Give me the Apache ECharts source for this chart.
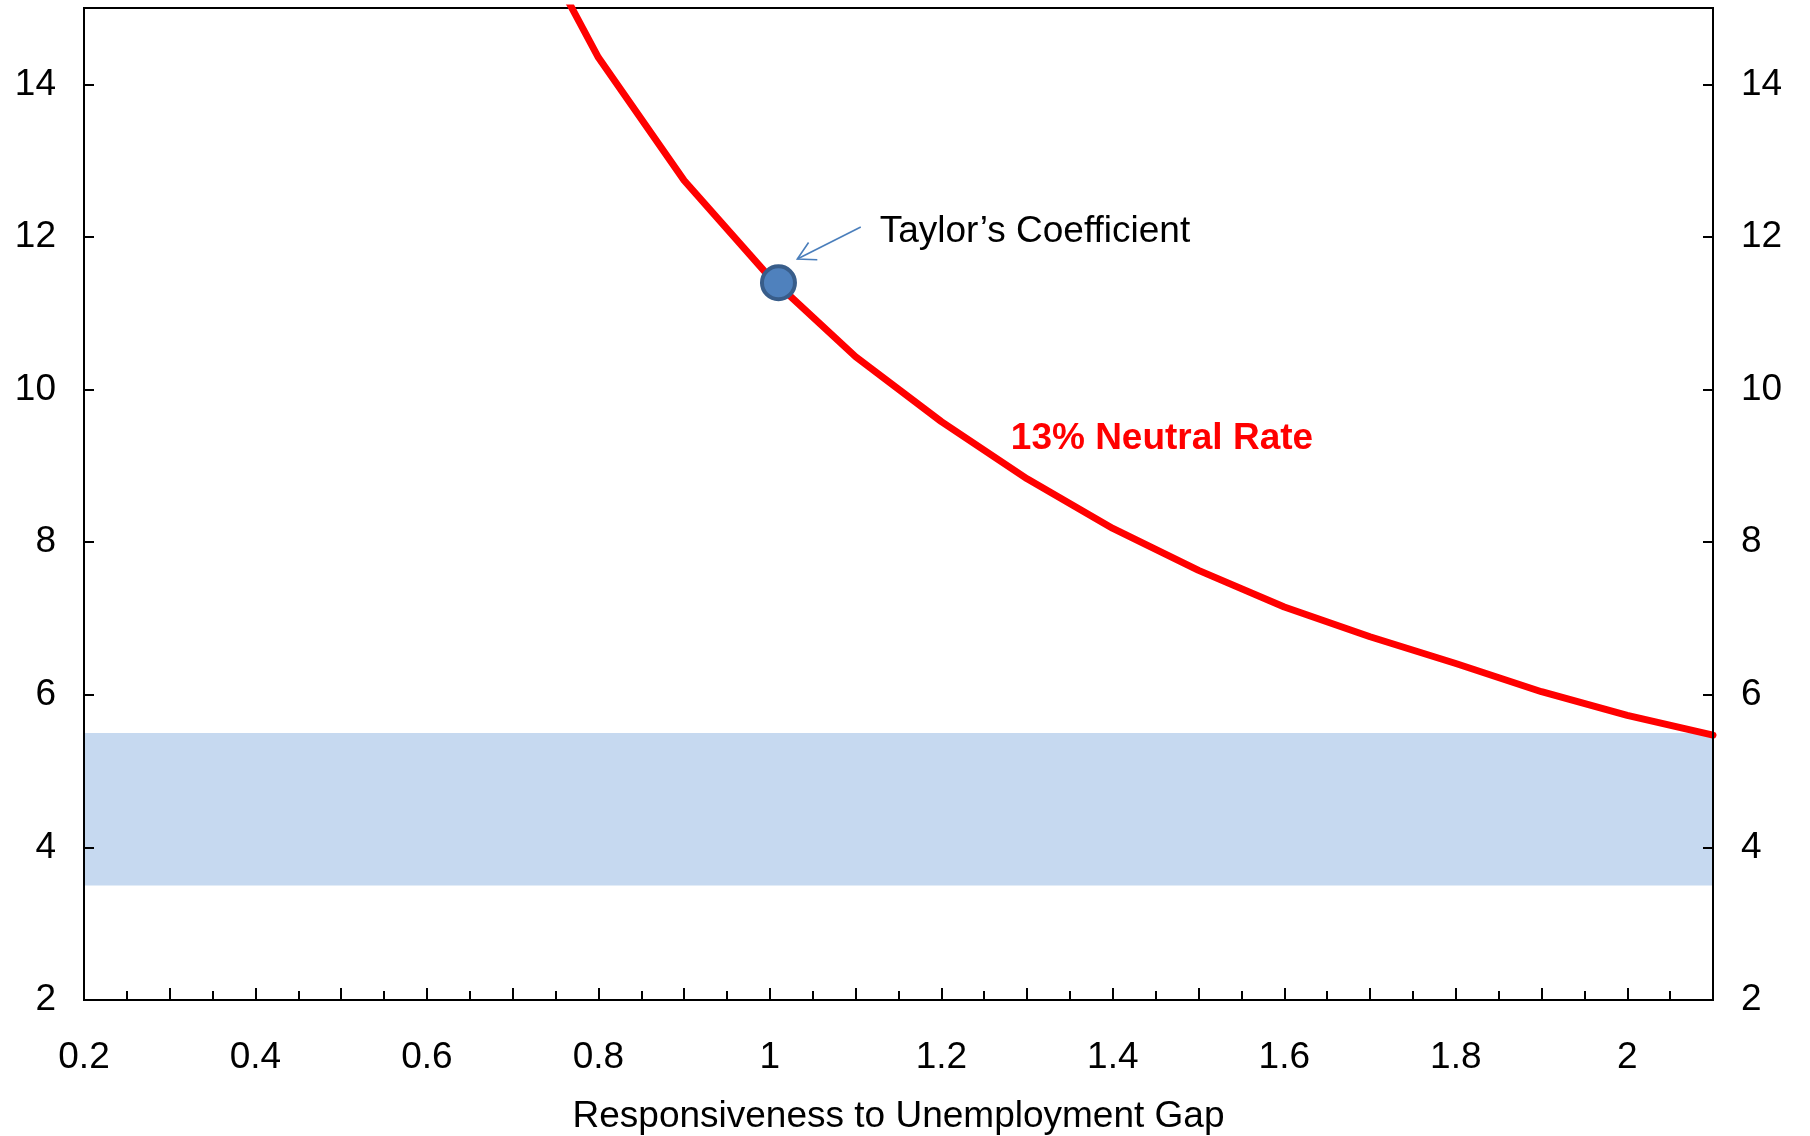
<!DOCTYPE html>
<html>
<head>
<meta charset="utf-8">
<script src="https://cdn.jsdelivr.net/npm/echarts@6/dist/echarts.min.js"></script>
<style>
  html, body { margin: 0; padding: 0; background: #fff; }
  #chart { width: 1810px; height: 1136px; }
</style>
</head>
<body>
<div id="chart"></div>
<script>
// Responsiveness to the unemployment gap (x) and the implied rate (y)
const responsiveness = [0.7, 0.8, 0.9, 1.0, 1.1, 1.2, 1.3, 1.4, 1.5, 1.6, 1.7, 1.8, 1.9, 2.0, 2.1];
const neutralRate13 = [16.45, 14.35, 12.74, 11.47, 10.43, 9.58, 8.83, 8.18, 7.63, 7.15, 6.76, 6.41, 6.04, 5.73, 5.47];

// Taylor's coefficient marker
const taylorPoint = [1.01, 11.4];

// Shaded reference band (low, high)
const band = [3.5, 5.5];

// Axis settings
const xRange = [0.2, 2.1];
const yRange = [2, 15];
const yTicks = [2, 4, 6, 8, 10, 12, 14];

// Annotations: arrow (from -> to) and text anchors
const arrowFromTo = [1.106, 12.13, 1.032, 11.71];
const taylorLabel = { text: 'Taylor\u2019s Coefficient', at: [1.128, 12.07] };
const rateLabel = { text: '13% Neutral Rate', at: [1.281, 9.35] };

const FONT = '"Liberation Sans", Arial, Helvetica, sans-serif';

const chart = echarts.init(document.getElementById('chart'), null, { renderer: 'canvas' });

const lineData = responsiveness.map((x, i) => [x, neutralRate13[i]]);

function yLabel(v) {
  return yTicks.indexOf(Math.round(v * 1000) / 1000) >= 0 ? String(v) : '';
}

const yAxisBase = {
  type: 'value',
  min: yRange[0],
  max: yRange[1],
  interval: 2,
  z: 5,
  splitLine: { show: false },
  axisLine: { show: true, lineStyle: { color: '#000', width: 2 } },
  axisTick: { show: true, inside: true, length: 10, lineStyle: { color: '#000', width: 2 } },
  axisLabel: { formatter: yLabel, color: '#000', fontSize: 37, fontFamily: FONT, margin: 28 }
};

chart.setOption({
  animation: false,
  backgroundColor: '#fff',
  grid: {
    left: 84, right: 97, top: 8, bottom: 136,
    outerBoundsMode: 'none',
    containLabel: false,
    show: true, borderColor: '#000', borderWidth: 2, backgroundColor: 'transparent'
  },
  xAxis: {
    type: 'value',
    min: xRange[0],
    max: xRange[1],
    interval: 0.1,
    z: 5,
    name: 'Responsiveness to Unemployment Gap',
    nameLocation: 'middle',
    nameGap: 98,
    nameTextStyle: { color: '#000', fontSize: 37, fontFamily: FONT },
    splitLine: { show: false },
    axisLine: { show: true, onZero: false, lineStyle: { color: '#000', width: 2 } },
    axisTick: { show: true, inside: true, length: 12, lineStyle: { color: '#000', width: 2 } },
    minorTick: { show: true, splitNumber: 2, length: 9, lineStyle: { color: '#000', width: 2 } },
    minorSplitLine: { show: false },
    axisLabel: {
      color: '#000', fontSize: 37, fontFamily: FONT, margin: 39,
      showMaxLabel: false,
      formatter: function (v) {
        const k = v * 5;
        if (Math.abs(k - Math.round(k)) > 1e-6) return '';
        return String(Math.round(v * 10) / 10);
      }
    }
  },
  yAxis: [
    Object.assign({}, yAxisBase, { position: 'left' }),
    Object.assign({}, yAxisBase, { position: 'right' })
  ],
  series: [
    {
      name: '13% Neutral Rate',
      type: 'line',
      data: lineData,
      clip: true,
      z: 3,
      showSymbol: false,
      symbol: 'none',
      lineStyle: { color: '#FF0000', width: 7, cap: 'round', join: 'round' },
      markArea: {
        silent: true,
        itemStyle: { color: '#C6D9F0', opacity: 1 },
        data: [[{ yAxis: band[0] }, { yAxis: band[1] }]]
      }
    },
    {
      name: 'arrow',
      type: 'custom',
      z: 4,
      silent: true,
      encode: { x: [0, 2], y: [1, 3] },
      data: [arrowFromTo],
      renderItem: function (params, api) {
        const p0 = api.coord([api.value(0), api.value(1)]);
        const p1 = api.coord([api.value(2), api.value(3)]);
        const ang = Math.atan2(p0[1] - p1[1], p0[0] - p1[0]);
        const len = 20, spread = 29 * Math.PI / 180;
        const a1 = [p1[0] + len * Math.cos(ang - spread), p1[1] + len * Math.sin(ang - spread)];
        const a2 = [p1[0] + len * Math.cos(ang + spread), p1[1] + len * Math.sin(ang + spread)];
        const style = { stroke: '#4A7EBB', lineWidth: 1.6, fill: null };
        return {
          type: 'group',
          children: [
            { type: 'polyline', shape: { points: [p0, p1] }, style: style },
            { type: 'polyline', shape: { points: [a1, p1, a2] }, style: style }
          ]
        };
      }
    },
    {
      name: 'Taylor\u2019s Coefficient',
      type: 'scatter',
      z: 6,
      data: [taylorPoint],
      symbol: 'circle',
      symbolSize: 33,
      itemStyle: { color: '#4F81BD', borderColor: '#385D8A', borderWidth: 4, opacity: 1 }
    },
    {
      name: 'notes',
      type: 'scatter',
      z: 6,
      silent: true,
      symbolSize: 0,
      itemStyle: { opacity: 1 },
      data: [
        { value: taylorLabel.at, label: { formatter: taylorLabel.text, color: '#000', fontWeight: 'normal' } },
        { value: rateLabel.at, label: { formatter: rateLabel.text, color: '#FF0000', fontWeight: 'bold' } }
      ],
      label: {
        show: true, position: 'right', distance: 0, align: 'left', verticalAlign: 'middle',
        fontSize: 37, fontFamily: FONT
      }
    }
  ]
});
</script>
</body>
</html>
